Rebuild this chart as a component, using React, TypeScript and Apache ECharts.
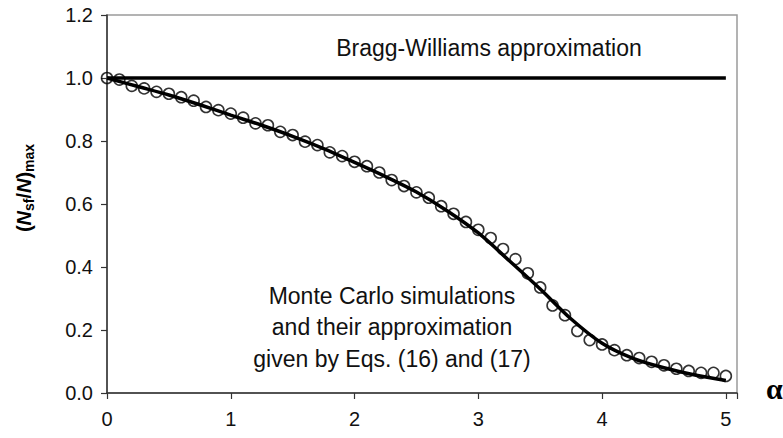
import React, { useEffect, useRef } from "react";
import * as echarts from "echarts";

const mcX = [0, 0.1, 0.2, 0.3, 0.4, 0.5, 0.6, 0.7, 0.8, 0.9, 1.0, 1.1, 1.2, 1.3, 1.4, 1.5, 1.6, 1.7, 1.8, 1.9, 2.0, 2.1, 2.2, 2.3, 2.4, 2.5, 2.6, 2.7, 2.8, 2.9, 3.0, 3.1, 3.2, 3.3, 3.4, 3.5, 3.6, 3.7, 3.8, 3.9, 4.0, 4.1, 4.2, 4.3, 4.4, 4.5, 4.6, 4.7, 4.8, 4.9, 5.0];
const mcY = [1.0, 0.995, 0.975, 0.967, 0.956, 0.95, 0.939, 0.928, 0.908, 0.898, 0.887, 0.874, 0.856, 0.85, 0.829, 0.819, 0.798, 0.787, 0.764, 0.752, 0.734, 0.72, 0.7, 0.676, 0.657, 0.637, 0.62, 0.593, 0.569, 0.543, 0.518, 0.492, 0.457, 0.425, 0.38, 0.335, 0.278, 0.247, 0.197, 0.168, 0.154, 0.136, 0.12, 0.111, 0.099, 0.088, 0.077, 0.07, 0.064, 0.064, 0.054];

const fitX = [0, 0.25, 0.5, 0.75, 1.0, 1.25, 1.5, 1.75, 2.0, 2.25, 2.5, 2.75, 3.0, 3.25, 3.5, 3.75, 4.0, 4.25, 4.5, 4.75, 5.0];
const fitY = [1.0, 0.973, 0.946, 0.915, 0.882, 0.85, 0.815, 0.776, 0.732, 0.687, 0.638, 0.578, 0.508, 0.42, 0.33, 0.235, 0.158, 0.11, 0.08, 0.057, 0.04];

const bwX = [0, 5];
const bwY = [1.0, 1.0];

const yTicks = [0, 0.2, 0.4, 0.6, 0.8, 1.0, 1.2];
const xTicks = [0, 1, 2, 3, 4, 5];

const bwLabel = "Bragg-Williams approximation";
const mcLabel = ["Monte Carlo simulations", "and their approximation", "given by Eqs. (16) and (17)"];

export default function App() {
  const ref = useRef<HTMLDivElement>(null);
  useEffect(() => {
    if (!ref.current) return;
    const chart = echarts.init(ref.current, undefined, { renderer: "svg" });
    const font = "'Liberation Sans', Arial, sans-serif";
    chart.setOption({
      animation: false,
      backgroundColor: "#ffffff",
      grid: {
        left: 107,
        top: 15,
        right: 46,
        bottom: 45,
        show: true,
        borderColor: "#9a9a9a",
        borderWidth: 1.5,
      },
      xAxis: {
        type: "value",
        min: 0,
        max: 5.09,
        interval: 1,
        axisLine: { show: true, onZero: false, lineStyle: { color: "#333", width: 1.5 } },
        axisTick: { show: true, inside: false, length: 6, lineStyle: { color: "#333", width: 1.2 } },
        axisLabel: {
          color: "#111",
          fontSize: 20,
          fontFamily: font,
          margin: 16,
          formatter: (v: number) => (xTicks.includes(v) ? String(v) : ""),
        },
        splitLine: { show: false },
      },
      yAxis: {
        type: "value",
        min: 0,
        max: 1.2,
        interval: 0.2,
        axisLine: { show: true, lineStyle: { color: "#333", width: 1.5 } },
        axisTick: { show: true, inside: false, length: 6, lineStyle: { color: "#333", width: 1.2 } },
        axisLabel: {
          color: "#111",
          fontSize: 20,
          fontFamily: font,
          margin: 14,
          formatter: (v: number) => {
            const t = yTicks.find((k) => Math.abs(k - v) < 1e-6);
            return t === undefined ? "" : t.toFixed(1);
          },
        },
        splitLine: { show: false },
      },
      series: [
        {
          type: "line",
          data: bwX.map((x, i) => [x, bwY[i]]),
          symbol: "none",
          lineStyle: { color: "#000", width: 3.5 },
          z: 2,
        },
        {
          type: "line",
          data: fitX.map((x, i) => [x, fitY[i]]),
          symbol: "none",
          smooth: 0.3,
          lineStyle: { color: "#000", width: 3.5 },
          z: 2,
        },
        {
          type: "scatter",
          data: mcX.map((x, i) => [x, mcY[i]]),
          symbol: "circle",
          symbolSize: 11,
          itemStyle: { color: "rgba(0,0,0,0)", borderColor: "#000", borderWidth: 1.6 },
          z: 3,
        },
      ],
      graphic: [
        {
          type: "text",
          x: 489,
          y: 48,
          style: {
            text: bwLabel,
            font: `23px ${font}`,
            fill: "#111",
            textAlign: "center",
            textVerticalAlign: "middle",
          },
        },
        {
          type: "text",
          x: 392,
          y: 327,
          style: {
            text: mcLabel.join("\n"),
            font: `23px ${font}`,
            lineHeight: 31.5,
            fill: "#111",
            textAlign: "center",
            textVerticalAlign: "middle",
          },
        },
        {
          type: "text",
          x: 766,
          y: 388,
          style: {
            text: "α",
            font: `bold 30px 'Liberation Serif', 'Times New Roman', serif`,
            fill: "#000",
            textAlign: "left",
            textVerticalAlign: "middle",
          },
        },
        {
          type: "text",
          x: 24,
          y: 188,
          rotation: Math.PI / 2,
          style: {
            text: "{p|(}{ni|N}{sub|sf}{p|/}{ni|N}{p|)}{sub|max}",
            textAlign: "center",
            textVerticalAlign: "middle",
            fill: "#000",
            rich: {
              p: { fontSize: 20, fontWeight: "bold", fontFamily: font, fill: "#000" },
              ni: { fontSize: 20, fontWeight: "bold", fontStyle: "italic", fontFamily: font, fill: "#000" },
              sub: { fontSize: 14, fontWeight: "bold", fontFamily: font, fill: "#000", padding: [10, 0, 0, 0] },
            },
          },
        },
      ],
    });
    return () => chart.dispose();
  }, []);
  return (
    <div
      ref={ref}
      style={{ position: "fixed", left: 0, top: 0, width: 783, height: 438 }}
    />
  );
}
